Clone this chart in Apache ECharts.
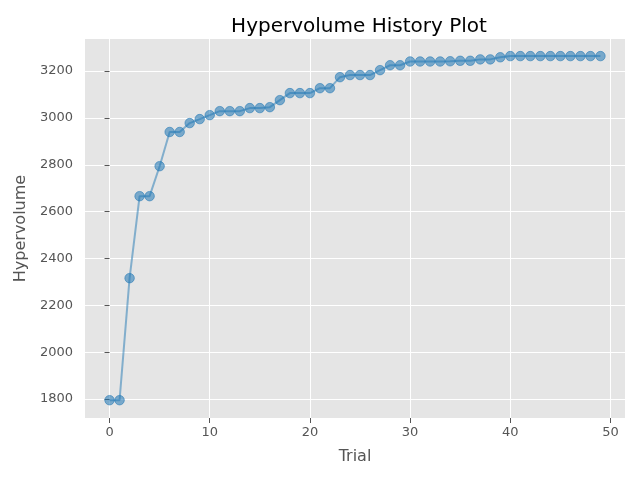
<!DOCTYPE html>
<html lang="en">
<head>
<meta charset="UTF-8">
<title>Hypervolume History Plot</title>
<script src="https://cdn.jsdelivr.net/npm/echarts@6/dist/echarts.min.js"></script>
<style>
  body { margin: 0; padding: 0; background: #fff; }
  #main { width: 640px; height: 480px; }
</style>
</head>
<body>
<div id="main"></div>
<script>
// hypervolume per trial
const trials = [];
for (let i = 0; i < 50; i++) trials.push(i);
const hypervolume = [
  1795, 1795, 2316, 2666, 2666, 2794, 2940, 2940, 2978, 2995,
  3012, 3029, 3029, 3029, 3042, 3042, 3046, 3076, 3106, 3106,
  3106, 3127, 3127, 3174, 3183, 3183, 3183, 3204, 3225, 3225,
  3241, 3241, 3241, 3241, 3242, 3244, 3244, 3250, 3250, 3259,
  3264, 3264, 3264, 3264, 3264, 3264, 3264, 3264, 3264, 3264
];
const xTicks = [0, 10, 20, 30, 40, 50];
const yTicks = [1800, 2000, 2200, 2400, 2600, 2800, 3000, 3200];

const chart = echarts.init(document.getElementById('main'));
const font = 'DejaVu Sans';
const tickColor = '#555555';

const axisCommon = {
  type: 'value',
  nameLocation: 'middle',
  nameTextStyle: { fontFamily: font, fontSize: 16, color: tickColor },
  axisLine: { show: false },
  axisTick: { show: true, length: 5, lineStyle: { color: tickColor, width: 1 } },
  axisLabel: { fontFamily: font, fontSize: 13, color: tickColor, formatter: v => String(v) },
  splitLine: { show: true, lineStyle: { color: '#ffffff', width: 1 } }
};

chart.setOption({
  animation: false,
  backgroundColor: '#ffffff',
  title: {
    text: 'Hypervolume History Plot',
    left: 354,
    top: 12,
    textAlign: 'center',
    textStyle: { fontFamily: font, fontSize: 20, fontWeight: 'normal', color: '#000' }
  },
  grid: {
    left: 85, right: 15, top: 39, bottom: 62,
    show: true, backgroundColor: '#e5e5e5', borderWidth: 0
  },
  xAxis: Object.assign({}, axisCommon, {
    name: 'Trial',
    nameGap: 31,
    min: -2.45,
    max: 51.45,
    axisTick: Object.assign({}, axisCommon.axisTick, { customValues: xTicks }),
    axisLabel: Object.assign({}, axisCommon.axisLabel, { customValues: xTicks, margin: 8 })
  }),
  yAxis: Object.assign({}, axisCommon, {
    name: 'Hypervolume',
    nameGap: 51,
    min: 1719,
    max: 3337,
    axisTick: Object.assign({}, axisCommon.axisTick, { customValues: yTicks }),
    axisLabel: Object.assign({}, axisCommon.axisLabel, { customValues: yTicks, margin: 12 })
  }),
  series: [{
    type: 'line',
    data: trials.map((t, i) => [t, hypervolume[i]]),
    symbol: 'circle',
    symbolSize: 9.5,
    showSymbol: true,
    lineStyle: { color: '#1f77b4', width: 2, opacity: 0.5 },
    itemStyle: { color: '#1f77b4', opacity: 0.55, borderColor: '#1f77b4', borderWidth: 1 }
  }]
});
</script>
</body>
</html>
